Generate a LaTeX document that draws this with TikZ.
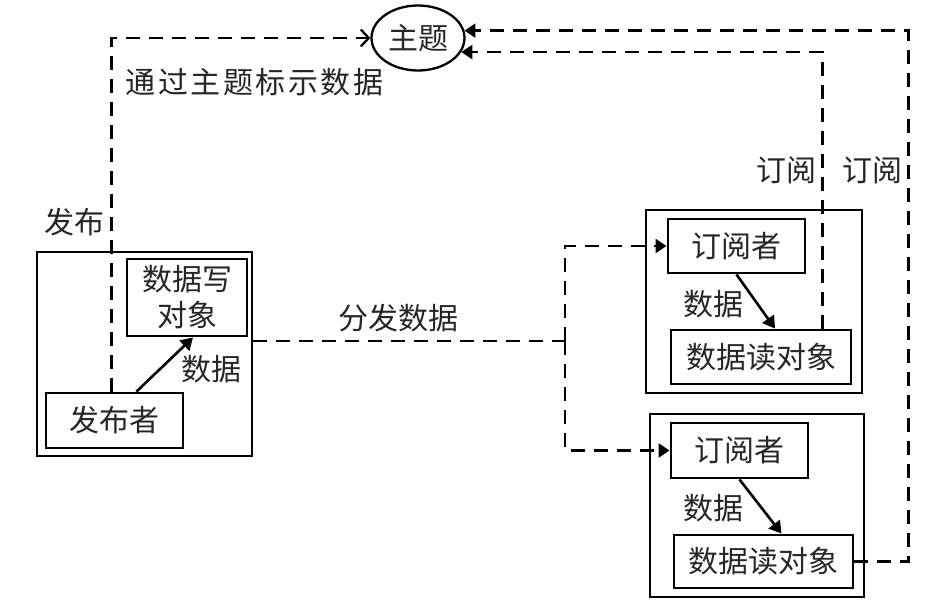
\documentclass[tikz,border=0pt]{standalone}
\usepackage{fontspec}
\newfontfamily\cjk{Noto Sans CJK SC}
\usetikzlibrary{arrows.meta,shapes.geometric}
\begin{document}
\begin{tikzpicture}[x=1pt,y=-1pt,
  every node/.style={font=\cjk\fontsize{30}{36}\selectfont, inner sep=0pt, text=black!85},
  obox/.style={draw, line width=2.3pt},
  ibox/.style={draw, line width=2.9pt},
  topicst/.style={draw, ellipse, line width=2.3pt, minimum width=93pt, minimum height=65pt},
  dline/.style={line width=2.3pt, dash pattern=on 14pt off 9pt},
  fillarr/.style={-{Triangle[length=11pt,width=14pt]}},
  openarr/.style={-{Straight Barb[length=8pt,width=17pt,line width=2.3pt]}},
  arr/.style={line width=2.6pt, -{Triangle[length=12pt,width=14pt]}},
  lbl/.style={}]
\useasboundingbox (0,0) rectangle (946,600);
% topic
\node[topicst] (topic) at (418,38) {主题};
% publisher side
\node[obox, minimum width=215pt, minimum height=204pt] (pubo) at (144.5,354) {};
\node[ibox, minimum width=120pt, minimum height=77pt, align=center] (dw) at (187,297.5) {数据写\\对象};
\node[ibox, minimum width=137pt, minimum height=55pt] (pub) at (114.5,420.5) {发布者};
% subscriber 1
\node[obox, minimum width=216pt, minimum height=183pt] (s1o) at (754,301.5) {};
\node[ibox, minimum width=137pt, minimum height=54pt] (sub1) at (736.5,246) {订阅者};
\node[ibox, minimum width=180pt, minimum height=54pt] (r1) at (761,357) {数据读对象};
% subscriber 2
\node[obox, minimum width=214pt, minimum height=183pt] (s2o) at (757,505.5) {};
\node[ibox, minimum width=137pt, minimum height=55pt] (sub2) at (739.5,450.5) {订阅者};
\node[ibox, minimum width=179pt, minimum height=53pt] (r2) at (763.5,561.5) {数据读对象};
% labels
\node[lbl] (lpubline) at (254.5,82) {\addfontfeature{LetterSpace=8.5}通过主题标示数据};
\node[lbl] (lpub) at (75,222) {发布};
\node[lbl] (ldist) at (398,318) {分发数据};
\node[lbl] (ld0) at (211,369) {数据};
\node[lbl] (ld1) at (713,304) {数据};
\node[lbl] (ld2) at (713,508) {数据};
\node[lbl] (lsub1) at (786,170) {订阅};
\node[lbl] (lsub2) at (872,170) {订阅};
% connectors
\coordinate (j) at (565,341);
\coordinate (t1) at (topic.9);
\coordinate (t2) at (topic.-18);
\draw[dline, openarr] ([xshift=-3pt]pub.north) |- (topic.west);
\draw[arr] ([xshift=22pt]pub.north) -- ([xshift=6pt]dw.south);
\draw[dline] ([yshift=13pt]pubo.east) -- (j);
\draw[dline, fillarr] (j) |- (sub1.west);
\draw[dline, fillarr] (j) |- (sub2.west);
\draw[arr] (sub1.south) -- ([xshift=14pt]r1.north);
\draw[arr] (sub2.south) -- ([xshift=18pt]r2.north);
\draw[dline, fillarr] ([xshift=-30pt]r1.north east) |- (t2);
\draw[dline, fillarr] (r2.east) -- ++(54,0) |- (t1);
\end{tikzpicture}
\end{document}
